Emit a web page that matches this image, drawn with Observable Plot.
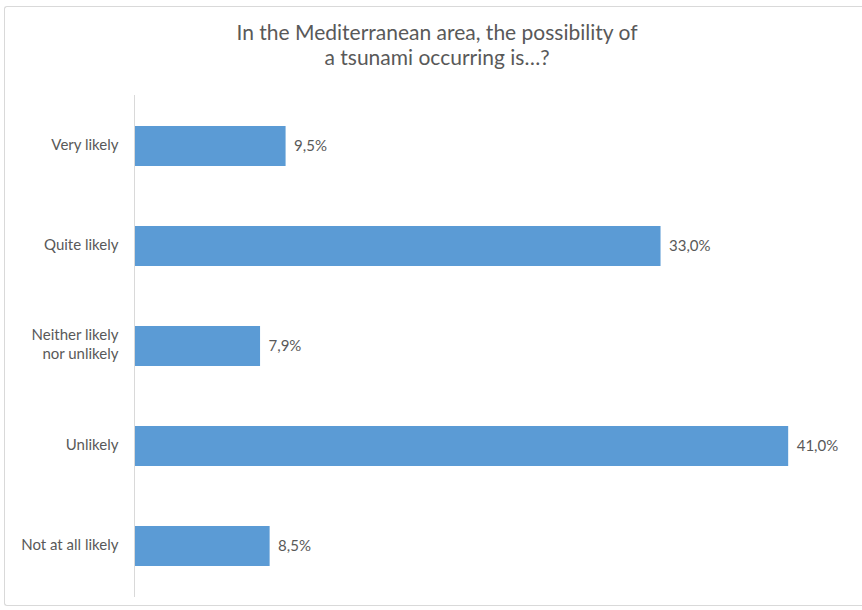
<!DOCTYPE html>
<html>
<head>
<meta charset="utf-8">
<script src="https://cdn.jsdelivr.net/npm/d3@7"></script>
<script src="https://cdn.jsdelivr.net/npm/@observablehq/plot@0.6"></script>
<style>
  html, body { margin: 0; padding: 0; background: #fff; width: 862px; height: 610px; overflow: hidden; }
  #frame { position: absolute; left: 4px; top: 6px; width: 880px; height: 598px; border: 1px solid #d9d9d9; border-right: none; border-radius: 3px; }
  #title { position: absolute; left: 0; top: 19px; width: 874px; text-align: center; font-family: Lato, "Open Sans", sans-serif; font-size: 21px; line-height: 25px; color: #595959; }
  #chart { position: absolute; left: 0; top: 80px; }
</style>
</head>
<body>
<div id="frame"></div>
<div id="title">In the Mediterranean area, the possibility of<br>a tsunami occurring is…?</div>
<div id="chart"></div>
<script>
const categories = ["Very likely", "Quite likely", "Neither likely\nnor unlikely", "Unlikely", "Not at all likely"];
const values = [9.5, 33.0, 7.9, 41.0, 8.5];
const data = categories.map((c, i) => ({category: c, value: values[i]}));
const fmt = v => v.toFixed(1).replace(".", ",") + "%";

const chart = Plot.plot({
  width: 862,
  height: 530,
  marginTop: 15,
  marginBottom: 13,
  marginLeft: 134,
  marginRight: 10,
  style: {fontFamily: "Lato, 'Open Sans', sans-serif", fontSize: "15px", color: "#595959", background: "transparent"},
  x: {domain: [0, 45], axis: null},
  y: {domain: categories, paddingInner: 0.6, paddingOuter: 0.3, label: null},
  marks: [
    Plot.barX(data, {x: "value", y: "category", fill: "#5B9BD5"}),
    Plot.ruleX([0], {stroke: "#d9d9d9", strokeWidth: 1}),
    Plot.axisY({tickSize: 0, tickPadding: 16, label: null, fontSize: 15, lineHeight: 1.3, dy: -3}),
    Plot.text(data, {x: "value", y: "category", text: d => fmt(d.value), textAnchor: "start", dx: 8, fill: "#595959", fontSize: 15})
  ]
});
document.getElementById("chart").appendChild(chart);
</script>
</body>
</html>
